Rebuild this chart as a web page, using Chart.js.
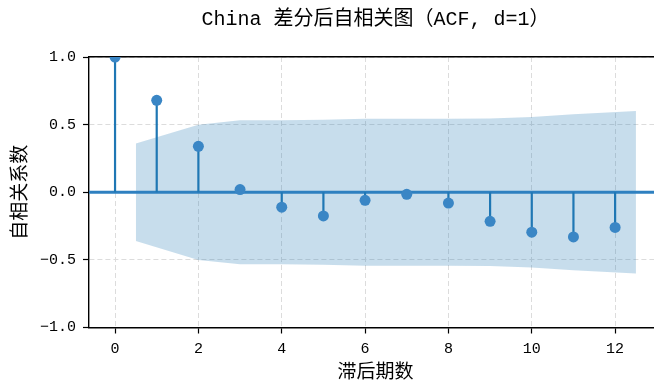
<!DOCTYPE html>
<html>
<head>
<meta charset="utf-8">
<script src="https://cdn.jsdelivr.net/npm/chart.js@4/dist/chart.umd.min.js"></script>
<style>
  html, body { margin: 0; padding: 0; background: #fff; overflow: hidden; }
  #wrap { width: 654px; height: 382px; overflow: hidden; }
</style>
</head>
<body>
<div id="wrap"><canvas id="acf" width="662" height="382"></canvas></div>
<script>
// Autocorrelation of the differenced China series, lags 0..12
const lags = [0, 1, 2, 3, 4, 5, 6, 7, 8, 9, 10, 11, 12];
const acfValues = [1.0, 0.68, 0.34, 0.02, -0.11, -0.175, -0.06, -0.015, -0.08, -0.215, -0.295, -0.33, -0.26];

// 95% confidence band (drawn half a lag beyond the first and last lag)
const bandLags = [0.5, 2, 3, 4, 5, 6, 7, 8, 9, 10, 11, 12.5];
const bandUpper = [0.36, 0.50, 0.533, 0.533, 0.536, 0.543, 0.544, 0.544, 0.546, 0.557, 0.577, 0.60];
const bandLower = [-0.36, -0.50, -0.533, -0.533, -0.536, -0.543, -0.544, -0.544, -0.546, -0.557, -0.577, -0.60];

// Axis ticks and limits
const xTicks = [0, 2, 4, 6, 8, 10, 12];
const yTicks = [-1.0, -0.5, 0.0, 0.5, 1.0];
const X_MIN = -0.625, X_MAX = 13.125;
const Y_MIN = -1.0, Y_MAX = 1.0;

const FONT = "'Liberation Mono', 'Noto Sans CJK SC', monospace";
const BLUE = '#1f77b4';
const DOT = '#3a86c5';
const GRID = '#dcdcdc';

// vertical stems from 0 to each acf value, broken apart with gaps
const stemPoints = [];
lags.forEach((lag, i) => {
  stemPoints.push({ x: lag, y: 0 }, { x: lag, y: acfValues[i] }, { x: lag, y: null });
});

const tickGrid = {
  color: GRID,
  lineWidth: 1,
  tickColor: '#000',
  tickLength: 6,
  tickWidth: 1.2,
  tickBorderDash: []
};

const chart = new Chart(document.getElementById('acf'), {
  type: 'scatter',
  data: {
    datasets: [
      {
        label: 'acf',
        data: lags.map((lag, i) => ({ x: lag, y: acfValues[i] })),
        showLine: false,
        pointRadius: 5.5,
        pointBackgroundColor: DOT,
        pointBorderWidth: 0,
        clip: 0,
        order: 0
      },
      {
        label: 'stems',
        type: 'line',
        data: stemPoints,
        borderColor: BLUE,
        borderWidth: 2.2,
        pointRadius: 0,
        spanGaps: false,
        fill: false,
        clip: 0,
        order: 1
      },
      {
        label: 'zero',
        type: 'line',
        data: [{ x: X_MIN, y: 0 }, { x: X_MAX, y: 0 }],
        borderColor: '#2e80c0',
        borderWidth: 3,
        pointRadius: 0,
        fill: false,
        clip: 0,
        order: 2
      },
      {
        label: 'upper',
        type: 'line',
        data: bandLags.map((x, i) => ({ x, y: bandUpper[i] })),
        borderWidth: 0,
        borderColor: 'rgba(0,0,0,0)',
        pointRadius: 0,
        tension: 0,
        fill: '+1',
        backgroundColor: 'rgba(31,119,180,0.25)',
        order: 3
      },
      {
        label: 'lower',
        type: 'line',
        data: bandLags.map((x, i) => ({ x, y: bandLower[i] })),
        borderWidth: 0,
        borderColor: 'rgba(0,0,0,0)',
        pointRadius: 0,
        tension: 0,
        fill: false,
        order: 4
      }
    ]
  },
  options: {
    responsive: false,
    animation: false,
    events: [],
    layout: { autoPadding: false, padding: { left: 0, right: 0, top: 0, bottom: 0 } },
    plugins: {
      legend: { display: false },
      tooltip: { enabled: false },
      title: { display: false }
    },
    scales: {
      x: {
        type: 'linear',
        position: 'bottom',
        min: X_MIN,
        max: X_MAX,
        afterBuildTicks: s => { s.ticks = xTicks.map(v => ({ value: v })); },
        afterFit: s => { s.height = 54.5; },
        ticks: {
          color: '#000',
          padding: 7,
          maxRotation: 0,
          font: { family: FONT, size: 15 },
          callback: v => String(v)
        },
        grid: tickGrid,
        border: { display: true, color: '#000', width: 1.4, dash: [5, 3] },
        title: {
          display: true,
          text: '滞后期数',
          color: '#000',
          font: { family: FONT, size: 19, lineHeight: 1 },
          padding: { top: 0, bottom: 0 }
        }
      },
      // top spine, carrying the chart title centred over the plot area
      x2: {
        type: 'linear',
        position: 'top',
        min: X_MIN,
        max: X_MAX,
        afterFit: s => { s.height = 57; },
        ticks: { display: false },
        grid: { display: false, drawTicks: false },
        border: { display: true, color: '#000', width: 1.4 },
        title: {
          display: true,
          text: 'China 差分后自相关图（ACF, d=1）',
          color: '#000',
          font: { family: FONT, size: 20, lineHeight: 1.2 },
          padding: { top: 8, bottom: 0 }
        }
      },
      y: {
        type: 'linear',
        position: 'left',
        min: Y_MIN,
        max: Y_MAX,
        afterBuildTicks: s => { s.ticks = yTicks.map(v => ({ value: v })); },
        afterFit: s => { s.width = 89; },
        ticks: {
          color: '#000',
          padding: 7,
          font: { family: FONT, size: 15 },
          callback: v => (v < 0 ? '\u2212' : '') + Math.abs(v).toFixed(1)
        },
        grid: tickGrid,
        border: { display: true, color: '#000', width: 1.4, dash: [5, 3] },
        title: {
          display: true,
          text: '自相关系数',
          color: '#000',
          font: { family: FONT, size: 19, lineHeight: 1 },
          padding: { top: 11, bottom: 0 }
        }
      }
    }
  }
});
</script>
</body>
</html>
